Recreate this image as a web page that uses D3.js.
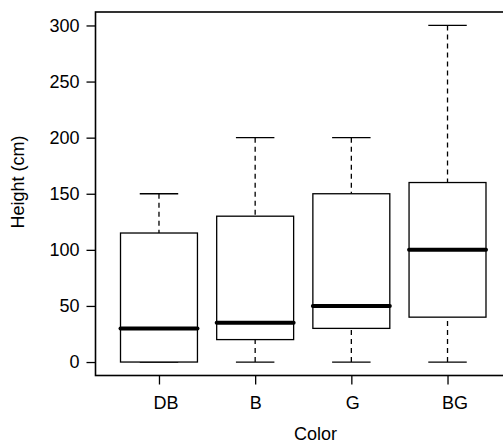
<!DOCTYPE html>
<html lang="en">
<head>
<meta charset="UTF-8">
<title>Height by Color</title>
<script src="https://d3js.org/d3.v7.min.js"></script>
<style>
  body { margin: 0; background: #fff; }
  text { font-family: "Liberation Sans", Arial, sans-serif; fill: #000; }
</style>
</head>
<body>
<div id="chart"></div>
<script>
    // box plot stats
    var colors = ["DB", "B", "G", "BG"];
    var mins    = [0, 0, 0, 0];
    var q1s     = [0, 20, 30, 40];
    var medians = [30, 35, 50, 100];
    var q3s     = [115, 130, 150, 160];
    var maxs    = [150, 200, 200, 300];
    var yTicks  = [0, 50, 100, 150, 200, 250, 300];

    var data = colors.map(function(c, i) {
        return {name: c, min: mins[i], q1: q1s[i], med: medians[i], q3: q3s[i], max: maxs[i]};
    });

    var W = 503, H = 440;
    var plotL = 95.5, plotT = 12, plotR = 511, plotB = 375.5;
    var fontSize = "18px";

    var svg = d3.select("#chart").append("svg")
        .attr("width", W).attr("height", H);

    // R style: index 1..n, range expanded 4%
    var x = d3.scaleLinear().domain([0.34, 4.66]).range([plotL, plotR]);
    var y = d3.scaleLinear().domain([-12, 312]).range([plotB, plotT]);

    var boxW = x(1.4) - x(1);   // half width 0.4
    var capW = x(1.2) - x(1);   // half width 0.2

    var g = svg.append("g");

    var boxes = g.selectAll(".box").data(data).enter().append("g");

    // whiskers
    boxes.append("line")
        .attr("x1", function(d, i) { return x(i + 1); })
        .attr("x2", function(d, i) { return x(i + 1); })
        .attr("y1", function(d) { return y(d.max); })
        .attr("y2", function(d) { return y(d.q3); })
        .attr("stroke", "#000").attr("stroke-width", 1.3)
        .attr("stroke-dasharray", "5,4");
    boxes.append("line")
        .attr("x1", function(d, i) { return x(i + 1); })
        .attr("x2", function(d, i) { return x(i + 1); })
        .attr("y1", function(d) { return y(d.min); })
        .attr("y2", function(d) { return y(d.q1); })
        .attr("stroke", "#000").attr("stroke-width", 1.3)
        .attr("stroke-dasharray", "5,4");

    // caps
    ["max", "min"].forEach(function(k) {
        boxes.append("line")
            .attr("x1", function(d, i) { return x(i + 1) - capW; })
            .attr("x2", function(d, i) { return x(i + 1) + capW; })
            .attr("y1", function(d) { return y(d[k]); })
            .attr("y2", function(d) { return y(d[k]); })
            .attr("stroke", "#000").attr("stroke-width", 1.3);
    });

    // box
    boxes.append("rect")
        .attr("x", function(d, i) { return x(i + 1) - boxW; })
        .attr("width", 2 * boxW)
        .attr("y", function(d) { return y(d.q3); })
        .attr("height", function(d) { return y(d.q1) - y(d.q3); })
        .attr("fill", "#fff").attr("stroke", "#000").attr("stroke-width", 1.3);

    // median
    boxes.append("line")
        .attr("x1", function(d, i) { return x(i + 1) - boxW; })
        .attr("x2", function(d, i) { return x(i + 1) + boxW; })
        .attr("y1", function(d) { return y(d.med); })
        .attr("y2", function(d) { return y(d.med); })
        .attr("stroke", "#000").attr("stroke-width", 4)
        .attr("stroke-linecap", "round");

    // frame
    svg.append("rect")
        .attr("x", plotL).attr("y", plotT)
        .attr("width", plotR - plotL).attr("height", plotB - plotT)
        .attr("fill", "none").attr("stroke", "#000").attr("stroke-width", 1.6);

    // y axis
    var yAxis = svg.append("g")
        .attr("transform", "translate(" + plotL + ",0)")
        .call(d3.axisLeft(y).tickValues(yTicks).tickSize(9).tickPadding(7));
    yAxis.select(".domain").remove();

    // x axis (labels start just left of the tick, as in the original)
    var xAxis = svg.append("g")
        .attr("transform", "translate(0," + plotB + ")")
        .call(d3.axisBottom(x).tickValues([1, 2, 3, 4]).tickSize(9).tickPadding(11.5)
            .tickFormat(function(d) { return colors[d - 1]; }));
    xAxis.select(".domain").remove();
    xAxis.selectAll(".tick text").attr("text-anchor", "start").attr("x", -6);

    svg.selectAll(".tick line").attr("stroke", "#000").attr("stroke-width", 1.3);
    svg.selectAll(".tick text")
        .style("font-family", "'Liberation Sans', Arial, sans-serif")
        .style("font-size", fontSize).attr("fill", "#000");

    // axis titles
    svg.append("text")
        .attr("x", 294).attr("y", 439.5)
        .attr("text-anchor", "start")
        .style("font-size", fontSize)
        .text("Color");

    svg.append("text")
        .attr("transform", "translate(24,228.5) rotate(-90)")
        .attr("text-anchor", "start")
        .style("font-size", fontSize)
        .text("Height (cm)");
</script>
</body>
</html>
